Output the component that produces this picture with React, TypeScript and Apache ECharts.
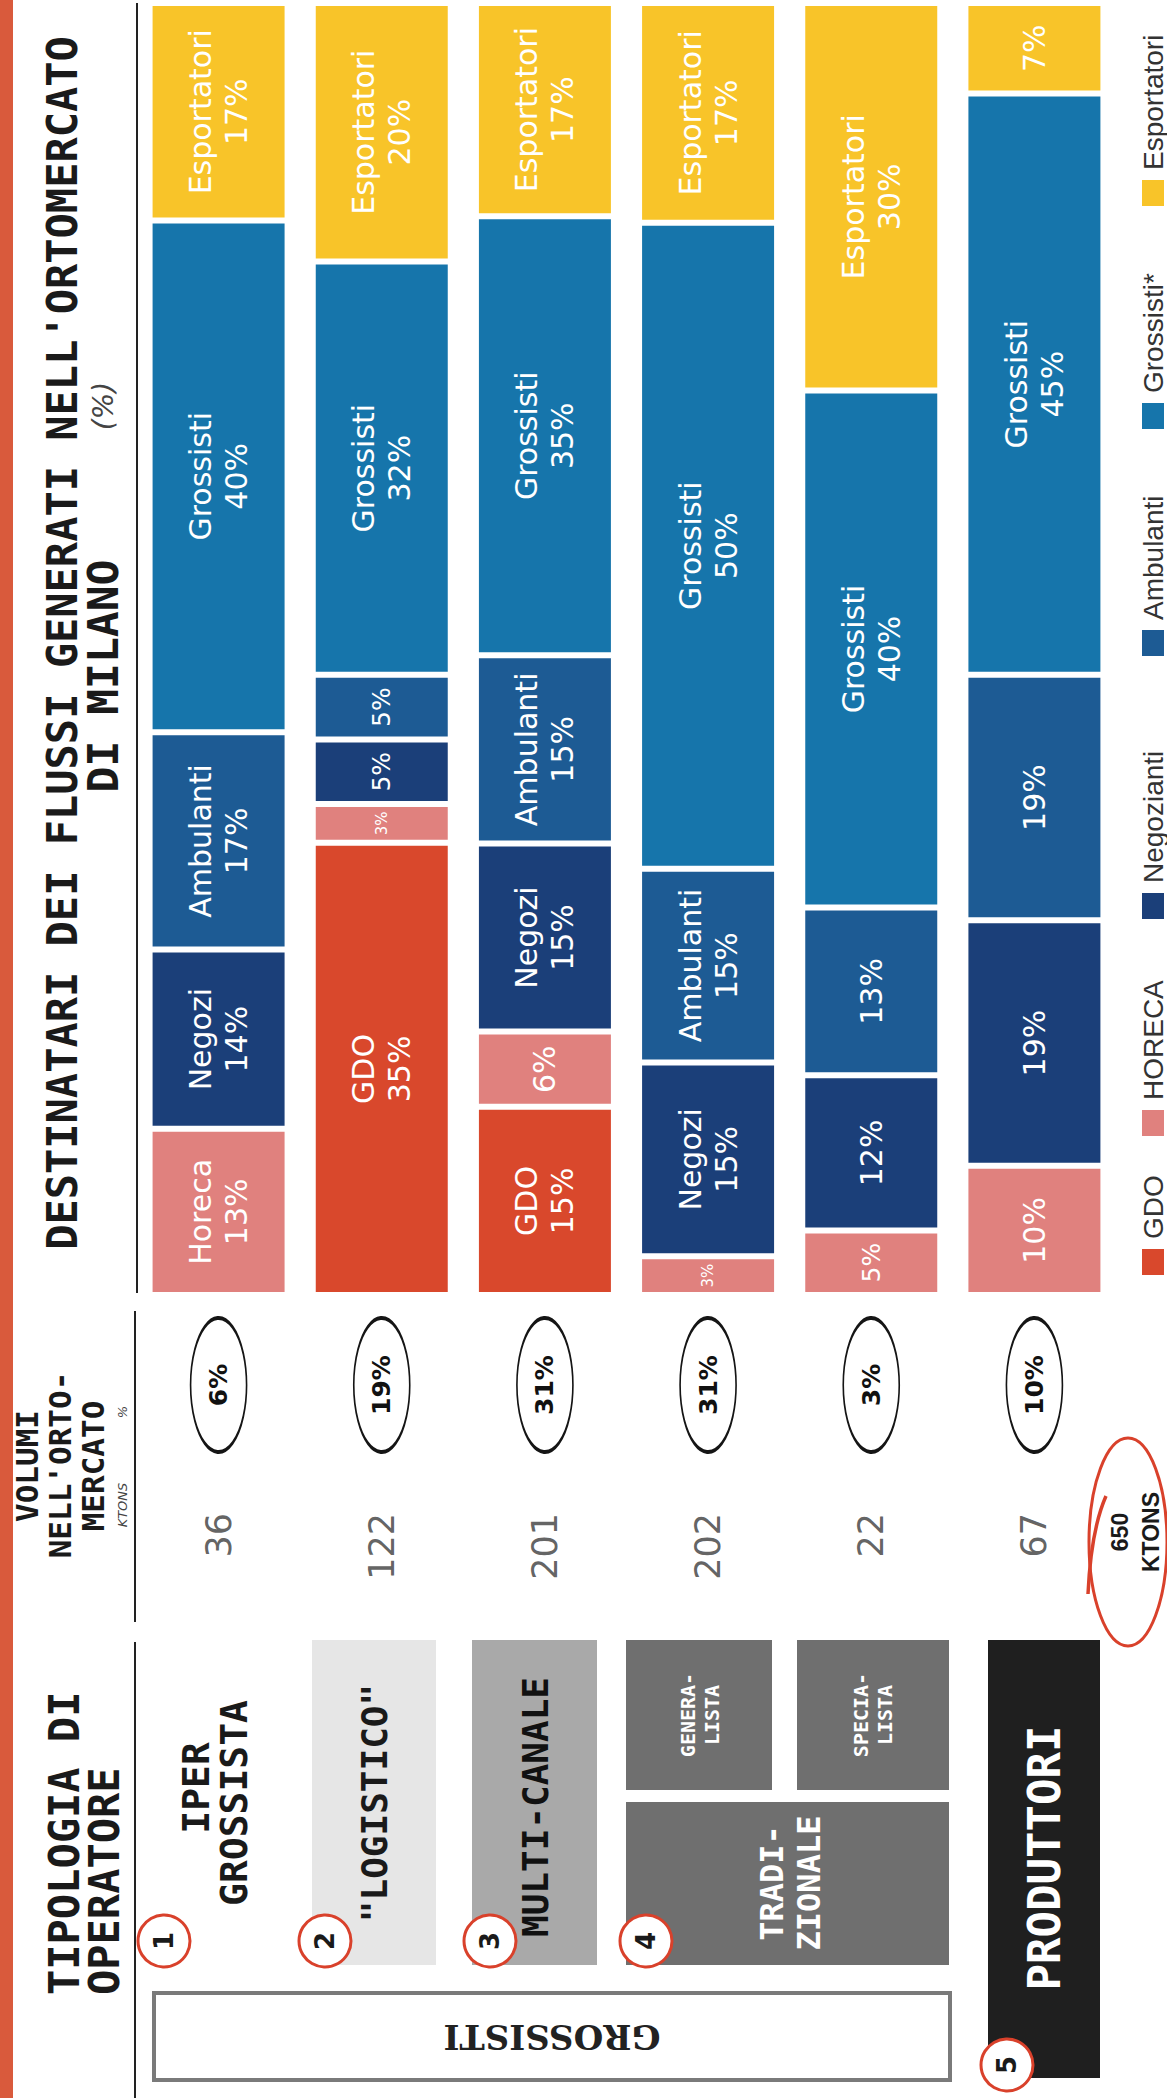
import React, { useEffect, useRef } from "react";
import * as echarts from "echarts";

// ---------- DATA ----------
const categories = ["IPER GROSSISTA", "\"LOGISTICO\"", "MULTI-CANALE", "GENERALISTA", "SPECIALISTA", "PRODUTTORI"];
const seriesNames = ["GDO", "HORECA", "Negozianti", "Ambulanti", "Grossisti*", "Esportatori"];
const gdoValues = [0, 35, 15, 0, 0, 0];
const horecaValues = [13, 3, 6, 3, 5, 10];
const negoziantiValues = [14, 5, 15, 15, 12, 19];
const ambulantiValues = [17, 5, 15, 15, 13, 19];
const grossistiValues = [40, 32, 35, 50, 40, 45];
const esportatoriValues = [17, 20, 17, 17, 30, 7];
// name shown inside each segment ("" = percentage only)
const gdoTags = ["", "GDO", "GDO", "", "", ""];
const horecaTags = ["Horeca", "", "", "", "", ""];
const negoziantiTags = ["Negozi", "", "Negozi", "Negozi", "", ""];
const ambulantiTags = ["Ambulanti", "", "Ambulanti", "Ambulanti", "", ""];
const grossistiTags = ["Grossisti", "Grossisti", "Grossisti", "Grossisti", "Grossisti", "Grossisti"];
const esportatoriTags = ["Esportatori", "Esportatori", "Esportatori", "Esportatori", "Esportatori", ""];
const volumesKtons = [36, 122, 201, 202, 22, 67];
const volumeShares = [6, 19, 31, 31, 3, 10];

// ---------- STYLE ----------
const colors = ["#d9482c", "#e0817e", "#1b3f79", "#1d5b94", "#1675ab", "#f8c429"];
const mono = "'DejaVu Sans Mono', monospace";
const sans = "'DejaVu Sans', Verdana, sans-serif";
const legendFont = "'Liberation Sans', Arial, sans-serif";
const R90 = Math.PI / 2;

function vt(text: string, x: number, y: number, o: any = {}) {
  return {
    type: "text",
    x,
    y,
    rotation: o.rotation ?? R90,
    silent: true,
    z: o.z ?? 10,
    style: {
      text,
      fill: o.fill ?? "#1a1a1a",
      fontSize: o.size ?? 24,
      fontWeight: o.weight ?? "bold",
      fontStyle: o.style ?? "normal",
      fontFamily: o.family ?? mono,
      align: o.align ?? "center",
      verticalAlign: "middle",
      lineHeight: o.lineHeight,
    },
  };
}

function buildGraphics() {
  const g: any[] = [];
  // red stripe on the left edge
  g.push({ type: "rect", silent: true, shape: { x: 0, y: 0, width: 13, height: 2098 }, style: { fill: "#d95a3c" } });

  // title
  g.push(vt("DESTINATARI DEI FLUSSI GENERATI NELL'ORTOMERCATO", 62, 643, { size: 42 }));
  g.push(vt("DI MILANO", 103, 676, { size: 43 }));
  g.push(vt("(%)", 103, 406, { size: 28, weight: "normal", style: "italic", family: sans, fill: "#444" }));

  // header separators
  const sep = (x: number, y1: number, y2: number) => ({
    type: "line", silent: true, shape: { x1: x, y1, x2: x, y2 }, style: { stroke: "#222", lineWidth: 2 },
  });
  g.push(sep(137, 3, 1293));
  g.push(sep(135, 1311, 1622));
  g.push(sep(135, 1642, 2098));

  // volumi header
  g.push(vt("VOLUMI", 27, 1466, { size: 31 }));
  g.push(vt("NELL'ORTO-", 60, 1465, { size: 31 }));
  g.push(vt("MERCATO", 93, 1466, { size: 31 }));
  g.push(vt("KTONS", 122, 1505, { size: 13, weight: "normal", style: "italic", family: sans, fill: "#444" }));
  g.push(vt("%", 122, 1412, { size: 13, weight: "normal", style: "italic", family: sans, fill: "#444" }));

  // tipologia header
  g.push(vt("TIPOLOGIA DI", 64, 1995, { size: 42, align: "left" }));
  g.push(vt("OPERATORE", 104, 1995, { size: 42, align: "left" }));

  // operator boxes
  const box = (x: number, y: number, w: number, h: number, fill: string, extra: any = {}) => ({
    type: "rect", silent: true, shape: { x, y, width: w, height: h }, style: { fill, ...extra },
  });
  g.push(vt("IPER", 196, 1788, { size: 38 }));
  g.push(vt("GROSSISTA", 234, 1803, { size: 38 }));

  g.push(box(312, 1640, 124, 325, "#e6e6e6"));
  g.push(vt("\"LOGISTICO\"", 374, 1803, { size: 36 }));

  g.push(box(472, 1640, 125, 325, "#a9a9a9"));
  g.push(vt("MULTI-CANALE", 535, 1807, { size: 36, fill: "#111" }));

  g.push(box(626, 1640, 146, 150, "#6f6f6f"));
  g.push(vt("GENERA-\nLISTA", 700, 1715, { size: 20, fill: "#fff", lineHeight: 24 }));
  g.push(box(797, 1640, 152, 150, "#6f6f6f"));
  g.push(vt("SPECIA-\nLISTA", 873, 1715, { size: 20, fill: "#fff", lineHeight: 24 }));
  g.push(box(626, 1802, 323, 163, "#6f6f6f"));
  g.push(vt("TRADI-\nZIONALE", 790, 1883, { size: 32, fill: "#fff", lineHeight: 37 }));

  g.push(box(988, 1640, 112, 438, "#1f1f1f"));
  g.push(vt("PRODUTTORI", 1044, 1858, { size: 44, fill: "#fff" }));

  g.push(box(154, 1993, 796, 87, "#fff", { stroke: "#7a7a7a", lineWidth: 4 }));
  g.push(vt("GROSSISTI", 552, 2037, { size: 34, family: "'DejaVu Serif', serif", rotation: Math.PI, fill: "#222" }));

  // numbered red circles
  const nums: [string, number, number][] = [
    ["1", 164, 1941], ["2", 325, 1941], ["3", 490, 1941], ["4", 646, 1941], ["5", 1007, 2065],
  ];
  nums.forEach(([t, cx, cy]) => {
    g.push({ type: "circle", silent: true, z: 20, shape: { cx, cy, r: 26 }, style: { fill: "#fff", stroke: "#d9412b", lineWidth: 3 } });
    g.push(vt(t, cx, cy, { size: 26, family: sans, z: 21 }));
  });

  // total volume, circled in red
  const total = volumesKtons.reduce((a, b) => a + b, 0);
  g.push({ type: "ellipse", silent: true, shape: { cx: 1128, cy: 1542, rx: 39, ry: 104 }, style: { fill: "none", stroke: "#d9412b", lineWidth: 3 } });
  g.push({ type: "bezierCurve", silent: true, shape: { x1: 1106, y1: 1496, cpx1: 1091, cpy1: 1530, x2: 1088, y2: 1594 }, style: { fill: "none", stroke: "#d9412b", lineWidth: 3.5 } });
  g.push(vt(`${total}\nKTONS`, 1135, 1532, { size: 23, family: legendFont, lineHeight: 31 }));

  // legend (series order, bottom to top)
  const legendCenters = [1262, 1123, 906, 643, 416, 193];
  seriesNames.forEach((name, k) => {
    const c = legendCenters[k];
    g.push({ type: "rect", silent: true, shape: { x: 1142, y: c - 13, width: 22, height: 26 }, style: { fill: colors[k] } });
    g.push(vt(name, 1153, c - 23, { size: 28, weight: "normal", family: legendFont, fill: "#333", align: "left" }));
  });
  return g;
}

function buildOption() {
  const layers = [gdoValues, horecaValues, negoziantiValues, ambulantiValues, grossistiValues, esportatoriValues];
  const tags = [gdoTags, horecaTags, negoziantiTags, ambulantiTags, grossistiTags, esportatoriTags];
  const totals = categories.map((_, i) => layers.reduce((s, l) => s + l[i], 0));

  const bars = layers.map((vals, k) => ({
    type: "bar",
    name: seriesNames[k],
    stack: "dest",
    xAxisIndex: 0,
    yAxisIndex: 0,
    barWidth: 138,
    itemStyle: { color: colors[k], borderColor: "#fff", borderWidth: 3 },
    label: {
      show: true,
      position: "inside",
      rotate: 90,
      color: "#fff",
      fontFamily: sans,
      fontSize: 30,
      lineHeight: 36,
      formatter: (p: any) => {
        const v = vals[p.dataIndex];
        const t = tags[k][p.dataIndex];
        return t ? `${t}\n${v}%` : `${v}%`;
      },
    },
    data: vals.map((v, i) => ({
      value: (v / totals[i]) * 100,
      label: { show: v > 0, fontSize: v <= 3 ? 15 : v <= 5 ? 25 : 30 },
    })),
  }));

  const shareSeries = {
    type: "scatter",
    name: "Quota volumi",
    xAxisIndex: 1,
    yAxisIndex: 1,
    symbol: "circle",
    symbolSize: [56, 134],
    itemStyle: { color: "#fff", borderColor: "#151515", borderWidth: 2.5, opacity: 1 },
    label: {
      show: true,
      position: "inside",
      rotate: 90,
      color: "#111",
      fontWeight: "bold",
      fontSize: 25,
      fontFamily: sans,
      formatter: (p: any) => `${volumeShares[p.dataIndex]}%`,
    },
    data: volumeShares.map((_, i) => [i, 85]),
  };

  const volumeSeries = {
    type: "scatter",
    name: "Volumi (ktons)",
    xAxisIndex: 1,
    yAxisIndex: 1,
    symbolSize: 1,
    itemStyle: { color: "rgba(0,0,0,0)" },
    label: {
      show: true,
      position: "inside",
      rotate: 90,
      align: "right",
      color: "#3a3a3a",
      fontSize: 35,
      fontFamily: sans,
      formatter: (p: any) => String(volumesKtons[p.dataIndex]),
    },
    data: volumesKtons.map((_, i) => [i, 213]),
  };

  return {
    animation: false,
    backgroundColor: "#ffffff",
    grid: [
      { left: 137, right: 51, top: 3, bottom: 803 },
      { left: 137, right: 51, top: 1300, height: 300 },
    ],
    xAxis: [
      { type: "category", data: categories, show: false, gridIndex: 0 },
      { type: "category", data: categories, show: false, gridIndex: 1 },
    ],
    yAxis: [
      { type: "value", min: 0, max: 100, show: false, gridIndex: 0 },
      { type: "value", min: 0, max: 300, inverse: true, show: false, gridIndex: 1 },
    ],
    series: [...bars, shareSeries, volumeSeries],
    graphic: buildGraphics(),
  };
}

export default function App() {
  const ref = useRef<HTMLDivElement>(null);
  useEffect(() => {
    document.body.style.margin = "0";
    const chart = echarts.init(ref.current as HTMLDivElement, null, { renderer: "svg" });
    chart.setOption(buildOption() as any);
    return () => chart.dispose();
  }, []);
  return (
    <div
      ref={ref}
      style={{ position: "absolute", left: 0, top: 0, width: 1167, height: 2098, background: "#fff" }}
    />
  );
}
